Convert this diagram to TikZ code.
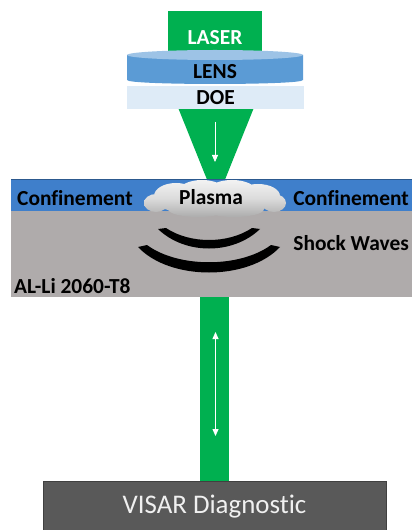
\documentclass[tikz,border=0pt]{standalone}
\usepackage{fontspec}
\setmainfont[Ligatures=NoCommon]{Carlito}
\usetikzlibrary{arrows.meta}
\definecolor{beam}{HTML}{00B050}
\definecolor{lensbody}{HTML}{5B9BD5}
\definecolor{lenstop}{HTML}{9DC3E6}
\definecolor{doefill}{HTML}{DEEBF7}
\definecolor{confine}{HTML}{3F7FCB}
\definecolor{alloy}{HTML}{AFABAB}
\definecolor{visar}{HTML}{595959}
\begin{document}
\begin{tikzpicture}[x=1bp,y=-1bp,
  lbl/.style={font=\fontsize{21.5}{24}\selectfont\bfseries, inner sep=0pt},
  >={Triangle[width=6bp,length=7bp]},
  flow/.style={white, line width=0.8bp},
  wave/.style={fill=black},
  puff/.style={top color=gray!10, bottom color=gray!65, middle color=gray!28},
]
\useasboundingbox (0,0) rectangle (414,530);

% laser head
\node[fill=beam, minimum width=94bp, minimum height=46bp, anchor=north, inner sep=0pt] (laser) at (215,11) {};

% focusing cone below the optics
\fill[beam] (175,100) -- (257,100) -- (216,202) -- cycle;

% lens: cylinder body with a lighter top face
\fill[lensbody] (127,55) -- (127,80) .. controls (127,85.3) and (303,85.3) .. (303,80) -- (303,55) -- cycle;
\fill[lenstop] (215,55) ellipse [x radius=88, y radius=5];
\node[lbl, text=white] (lasertxt) at (215,38) {LASER};
\node[lbl] (lens) at (215,72) {LENS};

% diffractive optical element
\node[lbl, fill=doefill, minimum width=177bp, minimum height=23bp] (doe) at (215.5,97.5) {DOE};

% incoming pulse direction
\coordinate (in1) at (215,122);
\coordinate (in2) at (215,162);
\draw[flow, ->] (in1) -- (in2);

% target: confinement layer over the alloy
\fill[confine] (11,179) rectangle (412,211);
\draw[confine!70!black, line width=0.6bp] (11,179) -- (412,179);
\fill[alloy] (11,211) rectangle (412,297);

\node[lbl, anchor=west] (confl) at (17,198) {Confinement};
\node[lbl, anchor=east] (confr) at (409,198) {Confinement};

% plasma cloud, built from overlapping puffs under one shading
\shade[puff]
  (214,201) ellipse [x radius=60, y radius=14]
  (176,196) ellipse [x radius=22, y radius=13]
  (202,191) ellipse [x radius=23, y radius=11]
  (232,191) ellipse [x radius=24, y radius=11]
  (258,196) ellipse [x radius=22, y radius=12]
  (156,203) ellipse [x radius=12, y radius=9]
  (274,203) ellipse [x radius=12, y radius=9]
  (198,209) ellipse [x radius=30, y radius=8]
  (234,209) ellipse [x radius=30, y radius=8];
\node[lbl] (plasma) at (211,197) {Plasma};

% shock waves
\fill[wave] (158,229) .. controls (185,255) and (233,255) .. (260,229)
  -- (252,228) .. controls (228,244) and (190,244) .. (166,228) -- cycle;
\fill[wave] (138,247) .. controls (170,281) and (248,281) .. (280,247)
  -- (271,245) .. controls (240,268) and (178,268) .. (147,245) -- cycle;

\node[lbl, anchor=east] (shock) at (409,243) {Shock Waves};
\node[lbl, anchor=west] (alli) at (14,286) {AL-Li 2060-T8};

% probe beam to the diagnostic
\fill[beam] (200,297) rectangle (229,481);
\coordinate (pr1) at (215.5,332);
\coordinate (pr2) at (215.5,436);
\draw[flow, <->] (pr1) -- (pr2);

% VISAR diagnostic
\node[fill=visar, draw=black!75, line width=0.5bp, minimum width=343bp, minimum height=50bp,
      anchor=north, inner sep=0pt, font=\fontsize{27}{30}\selectfont, text=white!94!black] (visar) at (214.5,481) {VISAR Diagnostic};
\end{tikzpicture}
\end{document}
